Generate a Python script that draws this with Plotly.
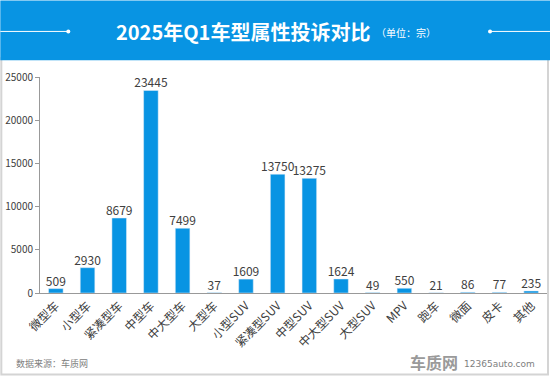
import plotly.graph_objects as go

categories = ["微型车", "小型车", "紧凑型车", "中型车", "中大型车", "大型车", "小型SUV", "紧凑型SUV",
              "中型SUV", "中大型SUV", "大型SUV", "MPV", "跑车", "微面", "皮卡", "其他"]
values = [509, 2930, 8679, 23445, 7499, 37, 1609, 13750, 13275, 1624, 49, 550, 21, 86, 77, 235]
y_ticks = [0, 5000, 10000, 15000, 20000, 25000]

W, H = 550, 380
L, R, T, B = 39.7, 547, 76.7, 293.3
FONT = "Noto Sans CJK SC"
BLUE = "#0894e3"

def px(x):
    return (x - L) / (R - L)

def py(y):
    return (B - y) / (B - T)

fig = go.Figure()
fig.add_trace(go.Bar(x=categories, y=values, marker_color=BLUE, width=0.46, hoverinfo="skip"))
fig.add_trace(go.Scatter(
    x=categories, y=values, mode="text", text=[str(v) for v in values],
    textposition="top center", cliponaxis=False, hoverinfo="skip",
    textfont=dict(size=12, color="#404040", family=FONT),
))

shapes = [
    dict(type="rect", xref="paper", yref="paper", x0=px(1), x1=px(548), y0=py(375), y1=py(58),
         line=dict(color="#d4d4d4", width=2), fillcolor="white", layer="below"),
    dict(type="rect", xref="paper", yref="paper", x0=px(0), x1=px(550), y0=py(60), y1=py(0),
         line=dict(width=0), fillcolor=BLUE, layer="above"),
    dict(type="line", xref="paper", yref="paper", x0=px(0), x1=px(68), y0=py(31), y1=py(31),
         line=dict(color="white", width=1)),
    dict(type="line", xref="paper", yref="paper", x0=px(490), x1=px(550), y0=py(31), y1=py(31),
         line=dict(color="white", width=1)),
    dict(type="circle", xref="paper", yref="paper", x0=px(66), x1=px(70), y0=py(33), y1=py(29),
         line=dict(width=0), fillcolor="white"),
    dict(type="circle", xref="paper", yref="paper", x0=px(488), x1=px(492), y0=py(33), y1=py(29),
         line=dict(width=0), fillcolor="white"),
]

annotations = [
    dict(xref="paper", yref="paper", x=px(372), y=py(31), xanchor="right", yanchor="middle",
         text="<b>2025年Q1车型属性投诉对比</b>", showarrow=False,
         font=dict(size=20, color="white", family=FONT)),
    dict(xref="paper", yref="paper", x=px(374), y=py(32), xanchor="left", yanchor="middle",
         text="（单位：宗）", showarrow=False, font=dict(size=10, color="white", family=FONT)),
    dict(xref="paper", yref="paper", x=px(14), y=py(364), xanchor="left", yanchor="middle",
         text="数据来源：车质网", showarrow=False, font=dict(size=9, color="#808080", family=FONT)),
    dict(xref="paper", yref="paper", x=px(460), y=py(362), xanchor="right", yanchor="middle",
         text="<b>车质网</b>", showarrow=False, font=dict(size=16, color="#9a9a9a", family=FONT)),
    dict(xref="paper", yref="paper", x=px(462), y=py(364), xanchor="left", yanchor="middle",
         text="12365auto.com", showarrow=False, font=dict(size=9, color="#808080", family="DejaVu Sans")),
]

fig.update_layout(
    width=W, height=H, margin=dict(l=L, r=W - R, t=T, b=H - B),
    paper_bgcolor="white", plot_bgcolor="white", showlegend=False,
    shapes=shapes, annotations=annotations, bargap=0.54,
    font=dict(family=FONT, color="#404040"),
)
fig.update_xaxes(range=[-0.5, len(categories) - 0.5], showline=True, linecolor="#999999", linewidth=1,
                 tickangle=-45, tickfont=dict(size=12, color="#404040", family=FONT),
                 ticks="", showgrid=False)
fig.update_yaxes(range=[0, 25000], tickvals=y_ticks, tickformat="d", showline=True,
                 linecolor="#999999", linewidth=1,
                 ticks="outside", ticklen=4, tickcolor="#999999", showgrid=False, zeroline=False,
                 tickfont=dict(size=10, color="#404040", family=FONT))

fig.write_html("out.html", config={"displayModeBar": False},
               post_script="document.body.style.margin='0';document.body.style.padding='0';")
